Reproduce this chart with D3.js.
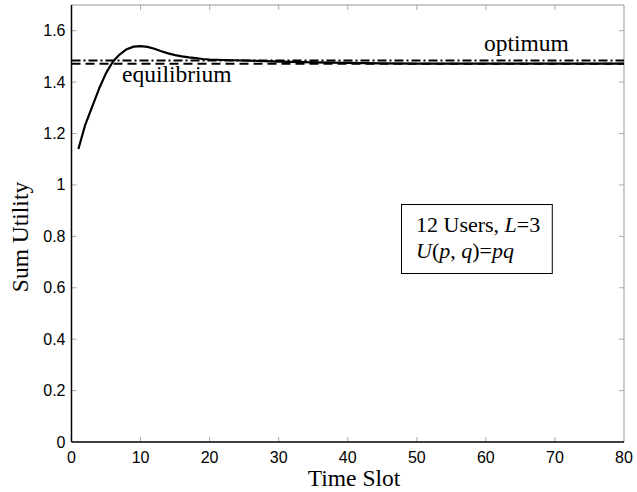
<!DOCTYPE html>
<html>
<head>
<meta charset="utf-8">
<script src="https://d3js.org/d3.v7.min.js"></script>
<style>
  body { margin: 0; background: #fff; }
  svg { display: block; }
</style>
</head>
<body>
<div id="chart"></div>
<script>
// Sum utility per time slot
const timeSlots = [1, 2, 3, 4, 5, 6, 7, 8, 9, 10, 11, 12, 13, 14, 15, 16, 17, 18, 19, 20,
                   22, 25, 28, 30, 35, 40, 45, 50, 55, 60, 65, 70, 75, 80];
const sumUtility = [1.14, 1.235, 1.305, 1.375, 1.435, 1.48, 1.508, 1.528, 1.538, 1.54, 1.537, 1.53, 1.52, 1.512, 1.505, 1.5, 1.496, 1.493, 1.49, 1.488,
                    1.486, 1.484, 1.482, 1.48, 1.477, 1.475, 1.473, 1.472, 1.472, 1.472, 1.472, 1.472, 1.472, 1.472];
const optimum = 1.484;
const equilibrium = 1.471;

const xTicks = [0, 10, 20, 30, 40, 50, 60, 70, 80];
const yTicks = [0, 0.2, 0.4, 0.6, 0.8, 1, 1.2, 1.4, 1.6];

const width = 637, height = 492;
const margin = {left: 71.5, right: 13, top: 5, bottom: 50};

const svg = d3.select("#chart").append("svg")
    .attr("width", width)
    .attr("height", height);

const x = d3.scaleLinear().domain([0, 80]).range([margin.left, width - margin.right]);
const y = d3.scaleLinear().domain([0, 1.7]).range([height - margin.bottom, margin.top]);

const tickFont = "Liberation Sans, Arial, sans-serif";
const serif = "Liberation Serif, Times New Roman, serif";

// frame: top/right gray, left/bottom black
svg.append("line").attr("x1", x(0)).attr("x2", x(80)).attr("y1", y(1.7)).attr("y2", y(1.7))
    .attr("stroke", "#999").attr("stroke-width", 1);
svg.append("line").attr("x1", x(80)).attr("x2", x(80)).attr("y1", y(0)).attr("y2", y(1.7))
    .attr("stroke", "#999").attr("stroke-width", 1);

// inner ticks
const tk = 5;
svg.append("g").selectAll("line").data(xTicks.slice(1, -1)).join("line")
    .attr("x1", d => x(d)).attr("x2", d => x(d))
    .attr("y1", y(0)).attr("y2", y(0) - tk).attr("stroke", "#aaa");
svg.append("g").selectAll("line").data(xTicks.slice(1, -1)).join("line")
    .attr("x1", d => x(d)).attr("x2", d => x(d))
    .attr("y1", y(1.7)).attr("y2", y(1.7) + tk).attr("stroke", "#aaa");
svg.append("g").selectAll("line").data(yTicks.slice(1)).join("line")
    .attr("x1", x(0)).attr("x2", x(0) + tk)
    .attr("y1", d => y(d)).attr("y2", d => y(d)).attr("stroke", "#aaa");
svg.append("g").selectAll("line").data(yTicks.slice(1)).join("line")
    .attr("x1", x(80)).attr("x2", x(80) - tk)
    .attr("y1", d => y(d)).attr("y2", d => y(d)).attr("stroke", "#aaa");

svg.append("line").attr("x1", x(0)).attr("x2", x(80)).attr("y1", y(0)).attr("y2", y(0))
    .attr("stroke", "#000").attr("stroke-width", 1.5);
svg.append("line").attr("x1", x(0)).attr("x2", x(0)).attr("y1", y(0)).attr("y2", y(1.7))
    .attr("stroke", "#000").attr("stroke-width", 1.5);

// tick labels
svg.append("g").selectAll("text").data(xTicks).join("text")
    .attr("x", d => x(d)).attr("y", y(0) + 21)
    .attr("text-anchor", "middle")
    .attr("font-family", tickFont).attr("font-size", 16)
    .text(d => d);
svg.append("g").selectAll("text").data(yTicks).join("text")
    .attr("x", x(0) - 6).attr("y", d => y(d) + 5.5)
    .attr("text-anchor", "end")
    .attr("font-family", tickFont).attr("font-size", 16)
    .text(d => d);

// reference lines
svg.append("line").attr("x1", x(0)).attr("x2", x(80))
    .attr("y1", y(optimum)).attr("y2", y(optimum))
    .attr("stroke", "#000").attr("stroke-width", 2)
    .attr("stroke-dasharray", "9,3,2,3");
svg.append("line").attr("x1", x(0)).attr("x2", x(80))
    .attr("y1", y(equilibrium)).attr("y2", y(equilibrium))
    .attr("stroke", "#000").attr("stroke-width", 2)
    .attr("stroke-dasharray", "9,5");

// utility curve
const line = d3.line().x((d, i) => x(timeSlots[i])).y(d => y(d));
svg.append("path").datum(sumUtility)
    .attr("d", line)
    .attr("fill", "none").attr("stroke", "#000").attr("stroke-width", 2.2)
    .attr("stroke-linejoin", "round");

// annotations
svg.append("text").attr("x", 484).attr("y", 51)
    .attr("font-family", serif).attr("font-size", 23.5).text("optimum");
svg.append("text").attr("x", 122).attr("y", 82)
    .attr("font-family", serif).attr("font-size", 23.5).text("equilibrium");

// info box
const box = svg.append("rect").attr("x", 401.5).attr("y", 204.5).attr("height", 69)
    .attr("fill", "#fff").attr("stroke", "#000").attr("stroke-width", 1);
const t1 = svg.append("text").attr("x", 416).attr("y", 232)
    .attr("font-family", serif).attr("font-size", 22);
t1.append("tspan").text("12 Users, ");
t1.append("tspan").attr("font-style", "italic").text("L");
t1.append("tspan").text("=3");
const t2 = svg.append("text").attr("x", 416).attr("y", 258)
    .attr("font-family", serif).attr("font-size", 22);
t2.append("tspan").attr("font-style", "italic").text("U");
t2.append("tspan").text("(");
t2.append("tspan").attr("font-style", "italic").text("p");
t2.append("tspan").text(", ");
t2.append("tspan").attr("font-style", "italic").text("q");
t2.append("tspan").text(")=");
t2.append("tspan").attr("font-style", "italic").text("pq");
const textRight = Math.max(t1.node().getBBox().x + t1.node().getBBox().width,
                           t2.node().getBBox().x + t2.node().getBBox().width);
box.attr("width", textRight + 12 - 401.5);

// axis titles
svg.append("text").attr("x", 354).attr("y", 486)
    .attr("text-anchor", "middle")
    .attr("font-family", serif).attr("font-size", 23.5).text("Time Slot");
svg.append("text")
    .attr("transform", "translate(28,237) rotate(-90)")
    .attr("text-anchor", "middle")
    .attr("font-family", serif).attr("font-size", 23.5).text("Sum Utility");
</script>
</body>
</html>
